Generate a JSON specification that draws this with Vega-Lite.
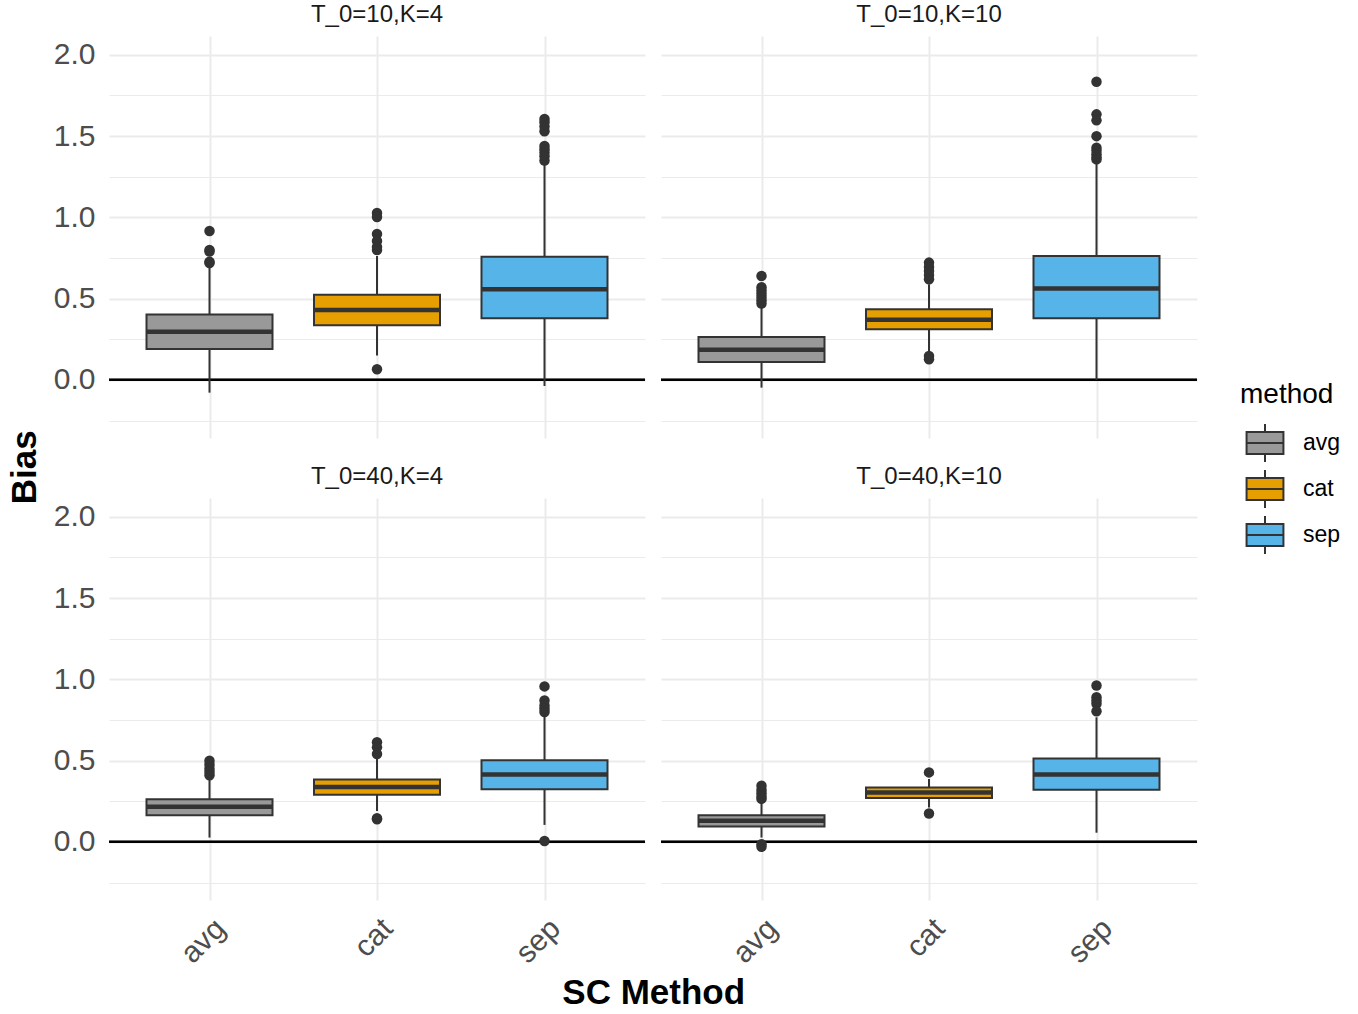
{
  "$schema": "https://vega.github.io/schema/vega-lite/v6.json",
  "padding": {"left": 8, "top": 3, "right": 5, "bottom": 3},
  "background": "white",
  "data": {"values": [
    {"panel": "T_0=10,K=4", "method": "avg", "lo": -0.078, "q1": 0.191, "med": 0.297, "q3": 0.403, "hi": 0.70},
    {"panel": "T_0=10,K=4", "method": "cat", "lo": 0.15, "q1": 0.336, "med": 0.43, "q3": 0.525, "hi": 0.763},
    {"panel": "T_0=10,K=4", "method": "sep", "lo": -0.037, "q1": 0.379, "med": 0.558, "q3": 0.758, "hi": 1.33},
    {"panel": "T_0=10,K=10", "method": "avg", "lo": -0.047, "q1": 0.111, "med": 0.186, "q3": 0.264, "hi": 0.455},
    {"panel": "T_0=10,K=10", "method": "cat", "lo": 0.178, "q1": 0.312, "med": 0.371, "q3": 0.435, "hi": 0.589},
    {"panel": "T_0=10,K=10", "method": "sep", "lo": 0.0, "q1": 0.379, "med": 0.562, "q3": 0.763, "hi": 1.336},
    {"panel": "T_0=40,K=4", "method": "avg", "lo": 0.027, "q1": 0.164, "med": 0.216, "q3": 0.263, "hi": 0.397},
    {"panel": "T_0=40,K=4", "method": "cat", "lo": 0.191, "q1": 0.29, "med": 0.338, "q3": 0.385, "hi": 0.52},
    {"panel": "T_0=40,K=4", "method": "sep", "lo": 0.105, "q1": 0.325, "med": 0.415, "q3": 0.502, "hi": 0.77},
    {"panel": "T_0=40,K=10", "method": "avg", "lo": 0.027, "q1": 0.095, "med": 0.13, "q3": 0.165, "hi": 0.243},
    {"panel": "T_0=40,K=10", "method": "cat", "lo": 0.212, "q1": 0.27, "med": 0.304, "q3": 0.335, "hi": 0.387},
    {"panel": "T_0=40,K=10", "method": "sep", "lo": 0.057, "q1": 0.321, "med": 0.415, "q3": 0.514, "hi": 0.767},
    {"panel": "T_0=10,K=4", "method": "avg", "out": 0.916},
    {"panel": "T_0=10,K=4", "method": "avg", "out": 0.80},
    {"panel": "T_0=10,K=4", "method": "avg", "out": 0.79},
    {"panel": "T_0=10,K=4", "method": "avg", "out": 0.728},
    {"panel": "T_0=10,K=4", "method": "avg", "out": 0.72},
    {"panel": "T_0=10,K=4", "method": "cat", "out": 1.027},
    {"panel": "T_0=10,K=4", "method": "cat", "out": 1.003},
    {"panel": "T_0=10,K=4", "method": "cat", "out": 0.898},
    {"panel": "T_0=10,K=4", "method": "cat", "out": 0.855},
    {"panel": "T_0=10,K=4", "method": "cat", "out": 0.818},
    {"panel": "T_0=10,K=4", "method": "cat", "out": 0.80},
    {"panel": "T_0=10,K=4", "method": "cat", "out": 0.066},
    {"panel": "T_0=10,K=4", "method": "sep", "out": 1.605},
    {"panel": "T_0=10,K=4", "method": "sep", "out": 1.585},
    {"panel": "T_0=10,K=4", "method": "sep", "out": 1.56},
    {"panel": "T_0=10,K=4", "method": "sep", "out": 1.53},
    {"panel": "T_0=10,K=4", "method": "sep", "out": 1.44},
    {"panel": "T_0=10,K=4", "method": "sep", "out": 1.42},
    {"panel": "T_0=10,K=4", "method": "sep", "out": 1.40},
    {"panel": "T_0=10,K=4", "method": "sep", "out": 1.377},
    {"panel": "T_0=10,K=4", "method": "sep", "out": 1.35},
    {"panel": "T_0=10,K=10", "method": "avg", "out": 0.64},
    {"panel": "T_0=10,K=10", "method": "avg", "out": 0.57},
    {"panel": "T_0=10,K=10", "method": "avg", "out": 0.55},
    {"panel": "T_0=10,K=10", "method": "avg", "out": 0.53},
    {"panel": "T_0=10,K=10", "method": "avg", "out": 0.51},
    {"panel": "T_0=10,K=10", "method": "avg", "out": 0.49},
    {"panel": "T_0=10,K=10", "method": "avg", "out": 0.47},
    {"panel": "T_0=10,K=10", "method": "cat", "out": 0.722},
    {"panel": "T_0=10,K=10", "method": "cat", "out": 0.695},
    {"panel": "T_0=10,K=10", "method": "cat", "out": 0.67},
    {"panel": "T_0=10,K=10", "method": "cat", "out": 0.645},
    {"panel": "T_0=10,K=10", "method": "cat", "out": 0.62},
    {"panel": "T_0=10,K=10", "method": "cat", "out": 0.148},
    {"panel": "T_0=10,K=10", "method": "cat", "out": 0.127},
    {"panel": "T_0=10,K=10", "method": "sep", "out": 1.835},
    {"panel": "T_0=10,K=10", "method": "sep", "out": 1.634},
    {"panel": "T_0=10,K=10", "method": "sep", "out": 1.597},
    {"panel": "T_0=10,K=10", "method": "sep", "out": 1.50},
    {"panel": "T_0=10,K=10", "method": "sep", "out": 1.429},
    {"panel": "T_0=10,K=10", "method": "sep", "out": 1.41},
    {"panel": "T_0=10,K=10", "method": "sep", "out": 1.388},
    {"panel": "T_0=10,K=10", "method": "sep", "out": 1.37},
    {"panel": "T_0=10,K=10", "method": "sep", "out": 1.357},
    {"panel": "T_0=40,K=4", "method": "avg", "out": 0.50},
    {"panel": "T_0=40,K=4", "method": "avg", "out": 0.475},
    {"panel": "T_0=40,K=4", "method": "avg", "out": 0.45},
    {"panel": "T_0=40,K=4", "method": "avg", "out": 0.43},
    {"panel": "T_0=40,K=4", "method": "avg", "out": 0.41},
    {"panel": "T_0=40,K=4", "method": "cat", "out": 0.613},
    {"panel": "T_0=40,K=4", "method": "cat", "out": 0.582},
    {"panel": "T_0=40,K=4", "method": "cat", "out": 0.541},
    {"panel": "T_0=40,K=4", "method": "cat", "out": 0.146},
    {"panel": "T_0=40,K=4", "method": "cat", "out": 0.139},
    {"panel": "T_0=40,K=4", "method": "sep", "out": 0.957},
    {"panel": "T_0=40,K=4", "method": "sep", "out": 0.87},
    {"panel": "T_0=40,K=4", "method": "sep", "out": 0.84},
    {"panel": "T_0=40,K=4", "method": "sep", "out": 0.82},
    {"panel": "T_0=40,K=4", "method": "sep", "out": 0.80},
    {"panel": "T_0=40,K=4", "method": "sep", "out": 0.006},
    {"panel": "T_0=40,K=10", "method": "avg", "out": 0.346},
    {"panel": "T_0=40,K=10", "method": "avg", "out": 0.32},
    {"panel": "T_0=40,K=10", "method": "avg", "out": 0.30},
    {"panel": "T_0=40,K=10", "method": "avg", "out": 0.28},
    {"panel": "T_0=40,K=10", "method": "avg", "out": 0.265},
    {"panel": "T_0=40,K=10", "method": "avg", "out": -0.014},
    {"panel": "T_0=40,K=10", "method": "avg", "out": -0.03},
    {"panel": "T_0=40,K=10", "method": "cat", "out": 0.428},
    {"panel": "T_0=40,K=10", "method": "cat", "out": 0.175},
    {"panel": "T_0=40,K=10", "method": "sep", "out": 0.963},
    {"panel": "T_0=40,K=10", "method": "sep", "out": 0.89},
    {"panel": "T_0=40,K=10", "method": "sep", "out": 0.87},
    {"panel": "T_0=40,K=10", "method": "sep", "out": 0.85},
    {"panel": "T_0=40,K=10", "method": "sep", "out": 0.804}
  ]},
  "title": {"text": "Bias", "orient": "left", "anchor": "middle", "fontSize": 35, "fontWeight": "bold", "color": "black", "font": "Liberation Sans", "offset": 10, "dx": 40},
  "vconcat": [{
    "title": {"text": "SC Method", "orient": "bottom", "anchor": "middle", "fontSize": 35, "fontWeight": "bold", "color": "black", "font": "Liberation Sans", "offset": 8, "dx": 28},
    "facet": {
      "field": "panel", "type": "nominal",
      "sort": ["T_0=10,K=4", "T_0=10,K=10", "T_0=40,K=4", "T_0=40,K=10"],
      "header": {"title": null, "labelFontSize": 24, "labelColor": "#1a1a1a", "labelFont": "Liberation Sans", "labelPadding": 9}
    },
    "columns": 2,
    "spacing": {"column": 12, "row": 27},
    "spec": {
      "width": 536,
      "height": 402,
      "encoding": {
        "x": {"field": "method", "type": "nominal", "title": null,
          "scale": {"type": "point", "padding": 0.6, "domain": ["avg", "cat", "sep"]},
          "axis": {"grid": true, "labelAngle": -45, "labelAlign": "right", "labelBaseline": "top", "labelPadding": 13}}
      },
      "layer": [
        {
          "transform": [{"filter": "isValid(datum.q1)"}],
          "mark": {"type": "rule", "color": "black", "strokeWidth": 2.2},
          "encoding": {"x": null, "y": {"datum": 0, "type": "quantitative", "title": null}}
        },
        {
          "transform": [{"filter": "isValid(datum.q1)"}],
          "mark": {"type": "rule", "color": "#333333", "strokeWidth": 2},
          "encoding": {
            "y": {"field": "lo", "type": "quantitative", "title": null,
              "scale": {"domain": [-0.357, 2.116], "nice": false, "zero": false},
              "axis": {"grid": true, "values": [-0.25, 0, 0.25, 0.5, 0.75, 1, 1.25, 1.5, 1.75, 2],
                "labelExpr": "(datum.value * 2) % 1 == 0 ? format(datum.value, '.1f') : ''",
                "gridWidth": {"condition": {"test": "(datum.value * 2) % 1 != 0", "value": 1}, "value": 2}}},
            "y2": {"field": "hi"}
          }
        },
        {
          "transform": [{"filter": "isValid(datum.q1)"}],
          "mark": {"type": "bar", "size": 126, "stroke": "#333333", "strokeWidth": 2},
          "encoding": {
            "y": {"field": "q1", "type": "quantitative", "title": null},
            "y2": {"field": "q3"},
            "fill": {"field": "method", "type": "nominal",
              "scale": {"domain": ["avg", "cat", "sep"], "range": ["#999999", "#E69F00", "#56B4E9"]},
              "legend": {"orient": "none", "legendX": 1131, "legendY": 345, "title": "method"}}
          }
        },
        {
          "transform": [{"filter": "isValid(datum.q1)"}],
          "mark": {"type": "tick", "size": 126, "thickness": 4.5, "color": "#333333", "opacity": 1},
          "encoding": {"y": {"field": "med", "type": "quantitative", "title": null}}
        },
        {
          "transform": [{"filter": "isValid(datum.out)"}],
          "mark": {"type": "circle", "size": 110, "color": "#333333", "opacity": 1},
          "encoding": {"y": {"field": "out", "type": "quantitative", "title": null}}
        }
      ]
    }
  }],
  "config": {
    "font": "Liberation Sans",
    "view": {"stroke": null},
    "axis": {"domain": false, "ticks": false, "grid": true, "gridColor": "#ebebeb", "gridWidth": 2,
      "labelColor": "#4d4d4d", "labelFontSize": 30, "labelFont": "Liberation Sans"},
    "axisY": {"labelPadding": 12},
    "legend": {"titleFontSize": 28, "titleFontWeight": "normal", "titleColor": "black", "titleFont": "Liberation Sans",
      "labelFontSize": 23, "labelColor": "black", "labelFont": "Liberation Sans",
      "symbolType": "M-0.97,-0.58H0.97V0.58H-0.97Z M-0.97,0H0.97 M0,-0.58V-1 M0,0.58V1",
      "symbolSize": 1444, "symbolStrokeColor": "#333333", "symbolStrokeWidth": 2, "symbolOpacity": 1,
      "rowPadding": 0, "labelOffset": 18, "titlePadding": 14, "symbolOffset": 5}
  }
}
